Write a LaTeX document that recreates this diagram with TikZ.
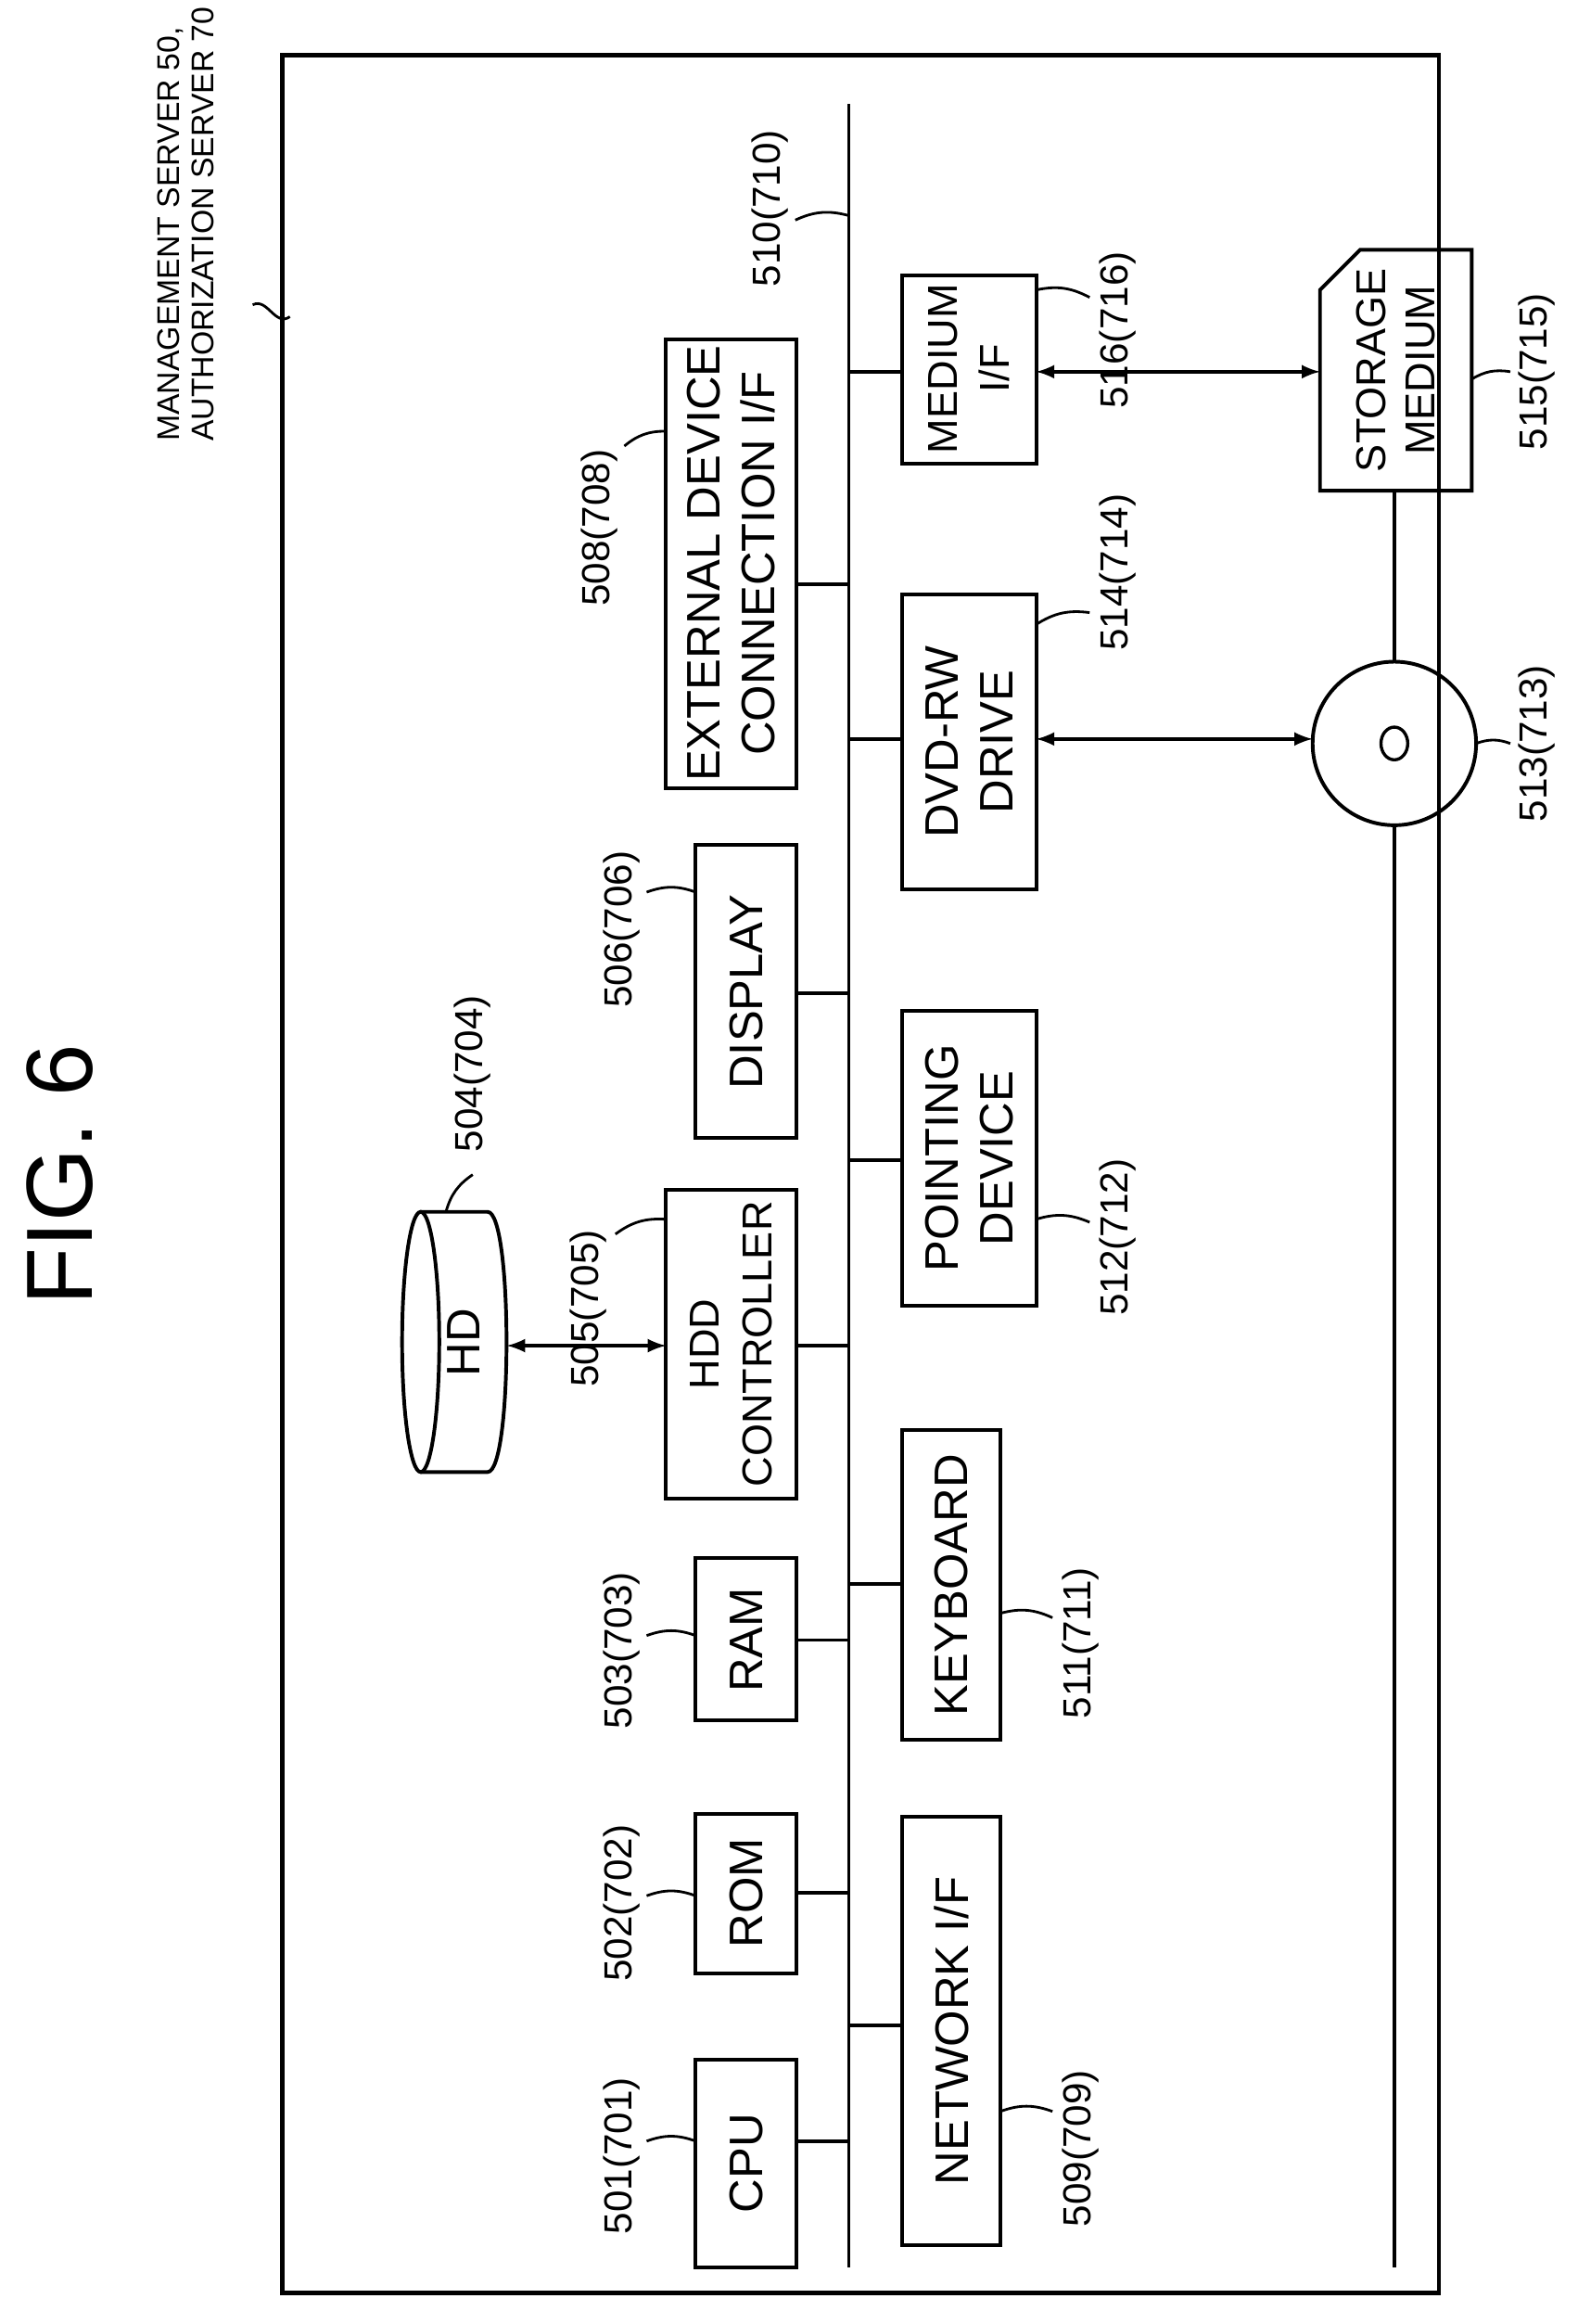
\documentclass[tikz,border=0pt]{standalone}
\usepackage{fontspec}
\setmainfont{Liberation Sans}
\begin{document}
\begin{tikzpicture}[x=0.02cm,y=-0.02cm,line width=1.4pt,
  box/.style={draw,line width=1.4pt},
  txt/.style={rotate=90,align=center,font=\fontsize{18}{21}\selectfont},
  lab/.style={rotate=90,font=\fontsize{15}{17}\selectfont},
  lead/.style={line width=1pt},
  dbl/.style={<->,>=latex,line width=1.4pt}]
\useasboundingbox (0,0) rectangle (1061,1563);
\draw[line width=1.6pt] (190,37) rectangle (968,1542);
\coordinate (bt) at (571,70); \coordinate (bb) at (571,1525);
\draw (bt) -- (bb);
% left column
\draw[box] (468,1385) rectangle (536,1525); \node[txt] (cpu) at (502,1455) {CPU};
\draw[box] (468,1220) rectangle (536,1327); \node[txt] (rom) at (502,1273) {ROM};
\draw[box] (468,1048) rectangle (536,1157); \node[txt] (ram) at (502,1103) {RAM};
\draw[box] (448,800) rectangle (536,1008); \node[txt,font=\fontsize{16}{20}\selectfont] (hdd) at (492,904) {HDD\\CONTROLLER};
\draw[box] (468,568) rectangle (536,765); \node[txt] (disp) at (502,667) {DISPLAY};
\draw[box] (448,228) rectangle (536,530); \node[txt] (ext) at (492,379) {EXTERNAL DEVICE\\CONNECTION I/F};
\foreach \y in {1440,1273,1103,905,668,393} \draw (536,\y) -- (571,\y);
% right column
\draw[box] (607,1222) rectangle (673,1510); \node[txt] (net) at (640,1366) {NETWORK I/F};
\draw[box] (607,962) rectangle (673,1170); \node[txt] (kb) at (640,1066) {KEYBOARD};
\draw[box] (607,680) rectangle (697,878); \node[txt] (pd) at (652,779) {POINTING\\DEVICE};
\draw[box] (607,400) rectangle (697,598); \node[txt] (dvd) at (652,499) {DVD-RW\\DRIVE};
\draw[box] (607,185) rectangle (697,312); \node[txt,font=\fontsize{16}{20}\selectfont] (med) at (652,248) {MEDIUM\\I/F};
\foreach \y in {1362,1065,780,497,250} \draw (571,\y) -- (607,\y);
% HD cylinder
\draw[box] (283,815) -- (328,815) .. controls (345,815) and (345,990) .. (328,990) -- (283,990);
\draw[box] (283,902.5) ellipse[x radius=12.5,y radius=87.5];
\node[txt] (hd) at (312,903) {HD};
\draw[dbl] (341,905) -- (448,905);
% storage and disc
\draw[box] (888,195) -- (915,168) -- (990,168) -- (990,330) -- (888,330) -- cycle;
\node[txt,font=\fontsize{16}{19}\selectfont] (sm) at (939,249) {STORAGE\\MEDIUM};
\draw[box] (938,500) circle (55);
\draw[line width=1.2pt] (938,500) ellipse[x radius=9,y radius=11];
\draw (938,330) -- (938,445); \draw (938,555) -- (938,1525);
\draw[dbl] (697,497) -- (883,497);
\draw[dbl] (697,250) -- (888,250);
% labels
\node[lab] at (418,1450) {501(701)}; \draw[lead] (435,1440) to[bend left=20] (468,1440);
\node[lab] at (418,1280) {502(702)}; \draw[lead] (435,1275) to[bend left=20] (468,1275);
\node[lab] at (418,1110) {503(703)}; \draw[lead] (435,1100) to[bend left=20] (468,1100);
\node[lab] at (396,880) {505(705)}; \draw[lead] (414,830) to[bend left=20] (448,820);
\node[lab] at (318,722) {504(704)}; \draw[lead] (318,790) to[bend right=20] (300,815);
\node[lab] at (418,625) {506(706)}; \draw[lead] (435,600) to[bend left=20] (468,600);
\node[lab] at (403,355) {508(708)}; \draw[lead] (420,300) to[bend left=20] (448,290);
\node[lab] at (518,140) {510(710)}; \draw[lead] (535,148) to[bend left=20] (571,145);
\node[lab] at (752,222) {516(716)}; \draw[lead] (733,200) to[bend right=20] (697,195);
\node[lab] at (752,385) {514(714)}; \draw[lead] (733,412) to[bend right=20] (697,420);
\node[lab] at (752,832) {512(712)}; \draw[lead] (733,822) to[bend right=20] (697,820);
\node[lab] at (727,1105) {511(711)}; \draw[lead] (708,1088) to[bend right=20] (673,1085);
\node[lab] at (727,1445) {509(709)}; \draw[lead] (708,1420) to[bend right=20] (673,1420);
\node[lab] at (1034,250) {515(715)}; \draw[lead] (1016,250) to[bend right=20] (990,255);
\node[lab] at (1034,500) {513(713)}; \draw[lead] (1016,500) to[bend right=20] (993,500);
\node[rotate=90,anchor=west,align=left,inner sep=0pt,font=\fontsize{12}{13}\selectfont] (title) at (125,298) {MANAGEMENT SERVER 50,\\AUTHORIZATION SERVER 70};
\draw[lead] (170,205) .. controls (180,200) and (185,220) .. (195,213);
\node[rotate=90,font=\fontsize{36}{40}\selectfont] (fig) at (40,790) {FIG. 6};
\end{tikzpicture}
\end{document}
